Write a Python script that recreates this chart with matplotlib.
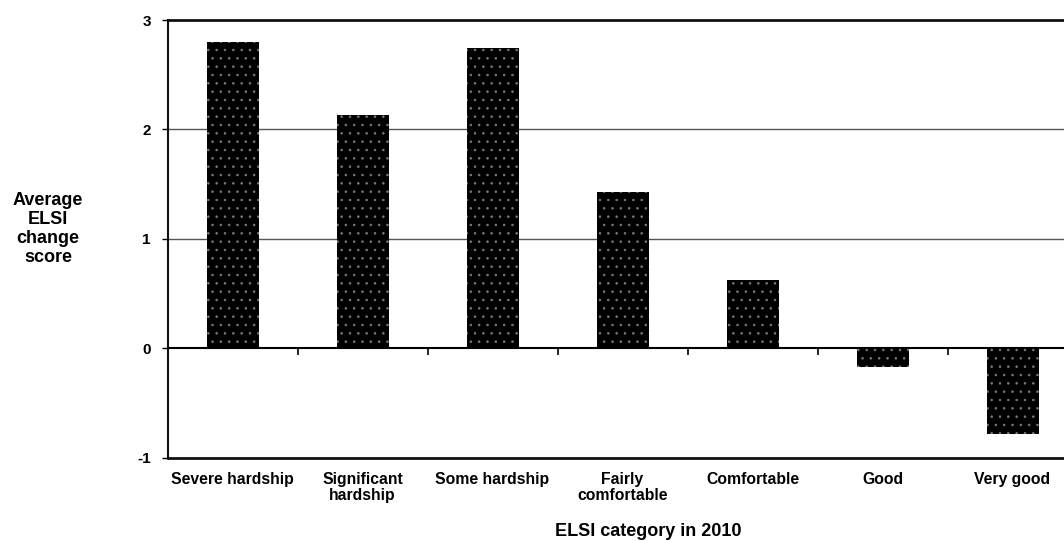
import numpy as np
import matplotlib
matplotlib.use("Agg")
from matplotlib import pyplot as plt

categories = ["Severe hardship", "Significant\nhardship", "Some hardship",
              "Fairly\ncomfortable", "Comfortable", "Good", "Very good"]
change_score = [2.80, 2.13, 2.74, 1.43, 0.62, -0.17, -0.78]
yticks = [-1, 0, 1, 2, 3]

plt.rcParams['font.family'] = ['Liberation Sans', 'DejaVu Sans']
plt.rcParams['hatch.linewidth'] = 0.6

fig = plt.figure(figsize=(10.64, 5.41), dpi=100)
# axes runs a little past the right edge, like the original (cropped) chart
ax = fig.add_axes([167.5/1064, (541-457.7)/541, 910/1064, (457.7-20)/541])

x = np.arange(len(categories))
ax.bar(x, change_score, width=0.4, color='black', edgecolor='#7a7a7a',
       linewidth=0, hatch='..', zorder=3)

ax.set_xlim(-0.5, len(categories) - 0.5)
ax.set_ylim(-1, 3)
ax.set_yticks(yticks)
ax.set_yticklabels([str(v) for v in yticks], fontweight='bold', fontsize=11)
ax.tick_params(axis='y', direction='out', length=4, width=1, pad=8)

# gridlines at 1 and 2
for v in [1, 2]:
    ax.axhline(v, color='#555555', lw=1, zorder=1)

ax.set_xticks(x)
ax.set_xticklabels(categories, fontweight='bold', fontsize=11.3, linespacing=1.1)
ax.tick_params(axis='x', length=0, pad=10)

for s in ['top', 'left', 'bottom']:
    ax.spines[s].set_color('#111111')
ax.spines['top'].set_linewidth(2)
ax.spines['left'].set_linewidth(1.5)
ax.spines['bottom'].set_linewidth(2)
ax.spines['right'].set_visible(False)

# zero line with category boundary ticks
zero = ax.secondary_xaxis(0.25)
zero.set_xticks(np.arange(len(categories) + 1) - 0.5)
zero.set_xticklabels([])
zero.tick_params(direction='out', length=5, width=1.2)
zero.spines['bottom'].set_linewidth(1.5)
zero.spines['bottom'].set_zorder(4)

fig.text(648/1064, 1 - 536/541, "ELSI category in 2010", ha='center', va='baseline',
         fontweight='bold', fontsize=13)
fig.text(48/1064, 1 - 229/541, "Average\nELSI\nchange\nscore", ha='center', va='center',
         fontweight='bold', fontsize=13, linespacing=1.15)

fig.savefig("out.png", dpi=100)
